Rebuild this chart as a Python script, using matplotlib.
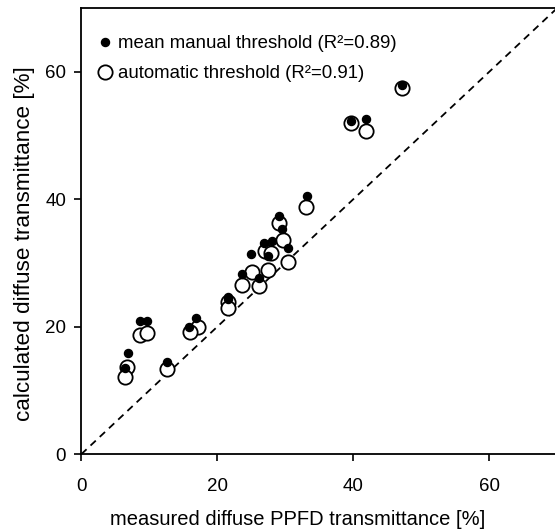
import matplotlib
matplotlib.use("Agg")
import matplotlib.pyplot as plt

plt.rcParams['font.family'] = ['Liberation Sans', 'DejaVu Sans']

# measured diffuse PPFD transmittance [%] vs calculated diffuse transmittance [%]
manual_x = [47.1, 39.6, 41.8, 33.2, 29.1, 29.5, 26.9, 28.0, 30.4, 25.0, 27.4,
            23.7, 26.2, 21.6, 21.5, 16.9, 15.8, 8.6, 9.6, 6.8, 6.4, 12.6]
manual_y = [57.9, 52.2, 52.6, 40.5, 37.3, 35.4, 33.1, 33.4, 32.4, 31.4, 31.1,
            28.2, 27.6, 24.7, 24.3, 21.3, 19.9, 20.9, 20.9, 15.9, 13.5, 14.5]

auto_x = [47.1, 39.6, 41.8, 33.1, 29.1, 29.6, 27.0, 27.9, 30.4, 25.1, 27.4,
          23.7, 26.2, 21.6, 21.6, 17.1, 16.0, 8.6, 9.7, 6.7, 6.4, 12.6]
auto_y = [57.5, 51.9, 50.7, 38.8, 36.3, 33.6, 31.8, 31.5, 30.2, 28.6, 28.9,
          26.5, 26.4, 23.9, 23.0, 20.0, 19.1, 18.7, 19.0, 13.7, 12.1, 13.3]

label_manual = "mean manual threshold (R²=0.89)"
label_auto = "automatic threshold (R²=0.91)"
xlabel = "measured diffuse PPFD transmittance [%]"
ylabel = "calculated diffuse transmittance [%]"
ticks = [0, 20, 40, 60]
lim = 70

fig = plt.figure(figsize=(5.55, 5.30), dpi=100)
ax = fig.add_axes([81.3 / 555, (530 - 454.2) / 530, 476 / 555, 446.2 / 530])

ax.plot([0, lim], [0, lim], color='black', linestyle=(0, (4, 3)), linewidth=1.3, zorder=1)

h_auto, = ax.plot(auto_x, auto_y, linestyle='none', marker='o', markersize=10.3,
                  markerfacecolor='white', markeredgecolor='black',
                  markeredgewidth=1.3, zorder=2, label=label_auto)
h_man, = ax.plot(manual_x, manual_y, linestyle='none', marker='o', markersize=5.8,
                 markerfacecolor='black', markeredgecolor='black', zorder=3,
                 label=label_manual)

ax.set_xlim(0, lim)
ax.set_ylim(0, lim)
ax.set_xticks(ticks)
ax.set_yticks(ticks)
ax.tick_params(direction='out', length=5, width=1.2, labelsize=13.5)
ax.tick_params(axis='x', pad=12)
ax.tick_params(axis='y', pad=6)
for s in ['left', 'bottom', 'top']:
    ax.spines[s].set_linewidth(1.3)
ax.spines['right'].set_visible(False)

ax.set_xlabel(xlabel, fontsize=14.5)
ax.set_ylabel(ylabel, fontsize=16.2)
ax.xaxis.set_label_coords(0.454, -0.124)
ax.yaxis.set_label_coords(-0.098, 0.471)

ax.legend(handles=[h_man, h_auto], loc='upper left', bbox_to_anchor=(-0.005, 0.9765),
          frameon=False, fontsize=13.4, handlelength=1.0, handletextpad=0.2,
          labelspacing=0.7, borderaxespad=0.5)

fig.savefig("out.png", dpi=100)
